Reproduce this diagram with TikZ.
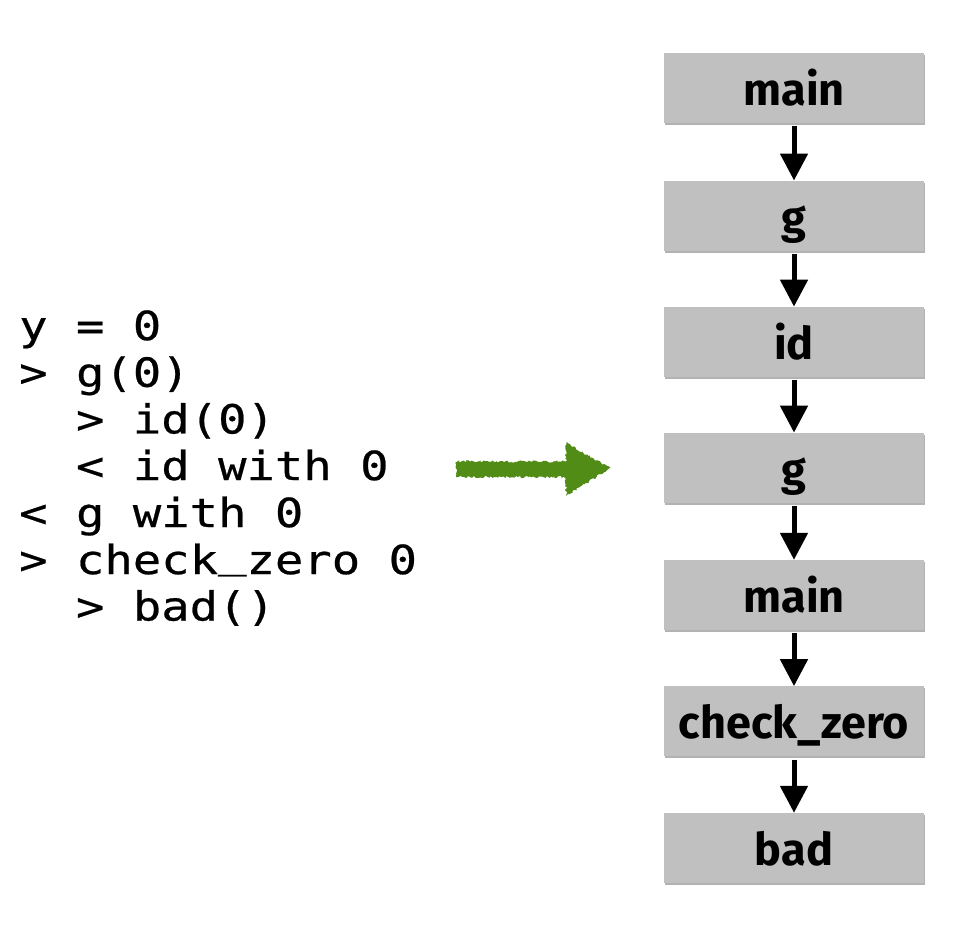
\documentclass[tikz,border=0pt]{standalone}
\usepackage{fontspec}
\usetikzlibrary{arrows.meta,shadows,decorations.pathmorphing}
\newfontfamily\codefont[FakeStretch=1.18,FakeBold=0.6]{DejaVu Sans Mono}
\newfontfamily\boxfont{Fira Sans}[BoldFont={Fira Sans Bold}]
\newcommand\mysp{\hphantom{0}}
\newcommand\codeus{\raisebox{7pt}{\_}}
\definecolor{boxgray}{RGB}{192,192,192}
\definecolor{chalkgreen}{RGB}{80,140,22}
\tikzset{
  x=1pt, y=1pt,
  callbox/.style={fill=boxgray, minimum width=260pt, minimum height=70pt,
    inner sep=0pt, text height=45pt, text depth=10pt,
    font=\boxfont\bfseries\fontsize{45}{45}\selectfont,
    drop shadow={shadow xshift=1pt, shadow yshift=-2pt, opacity=.3, fill=black}},
  callarrow/.style={line width=5pt, shorten <=3pt, -{Triangle[width=27pt,length=27pt]}},
  codeline/.style={anchor=base west, inner sep=0pt, font=\codefont\fontsize{40}{40}\selectfont},
  chalk/.style={fill=chalkgreen, decorate,
    decoration={random steps, segment length=1.5pt, amplitude=1.2pt}}
}
\begin{document}
\begin{tikzpicture}
\useasboundingbox (0,0) rectangle (954,-946);
% call boxes
\node[callbox] (b1) at (794,-87.5) {main};
\node[callbox] (b2) at (794,-215.7) {g};
\node[callbox] (b3) at (794,-341.8) {id};
\node[callbox] (b4) at (794,-467.8) {g};
\node[callbox] (b5) at (794,-595) {main};
\node[callbox] (b6) at (794,-721.3) {check\_zero};
\node[callbox] (b7) at (794,-848) {bad};
\draw[callarrow] (b1.south) -- (b2.north);
\draw[callarrow] (b2.south) -- (b3.north);
\draw[callarrow] (b3.south) -- (b4.north);
\draw[callarrow] (b4.south) -- (b5.north);
\draw[callarrow] (b5.south) -- (b6.north);
\draw[callarrow] (b6.south) -- (b7.north);
% trace text
\node[codeline] (l1) at (19,-340) {y\mysp=\mysp0};
\node[codeline] (l2) at (19,-386.7) {>\mysp g(0)};
\node[codeline] (l3) at (19,-433.4) {\mysp\mysp>\mysp id(0)};
\node[codeline] (l4) at (19,-480) {\mysp\mysp<\mysp id\mysp with\mysp 0};
\node[codeline] (l5) at (19,-527) {<\mysp g\mysp with\mysp 0};
\node[codeline] (l6) at (19,-574) {>\mysp check\codeus zero\mysp 0};
\node[codeline] (l7) at (19,-620.5) {\mysp\mysp>\mysp bad()};
% green arrow
\coordinate (gs) at (456,-468);
\coordinate (ge) at (610,-468);
\fill[chalk] (gs) ++(0,6.5) -- ++(110,0) -- ++(0,19) -- (ge)
  -- ++(-44,-28) -- ++(0,19) -- ++(-110,0) -- cycle;
\end{tikzpicture}
\end{document}
